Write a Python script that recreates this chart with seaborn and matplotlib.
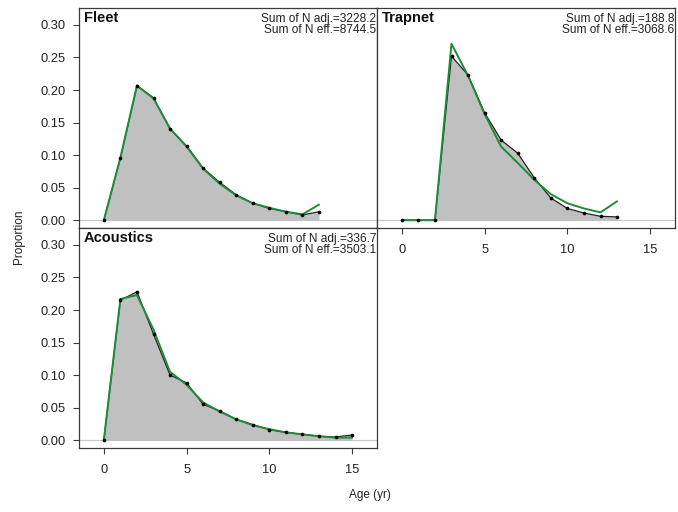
import numpy as np
import pandas as pd
import matplotlib
matplotlib.use("Agg")
import matplotlib.pyplot as plt
import seaborn as sns

# Observed and expected age composition proportions per fleet
fleet_ages = list(range(0, 14))
fleet_obs = [0.0, 0.095, 0.206, 0.188, 0.140, 0.114, 0.080, 0.058, 0.039, 0.026, 0.018, 0.013, 0.008, 0.013]
fleet_exp = [0.0, 0.096, 0.207, 0.187, 0.141, 0.113, 0.079, 0.056, 0.038, 0.026, 0.019, 0.013, 0.009, 0.024]

trap_ages = list(range(0, 14))
trap_obs = [0.0, 0.0, 0.0, 0.252, 0.223, 0.165, 0.123, 0.103, 0.065, 0.034, 0.018, 0.011, 0.006, 0.005]
trap_exp = [0.0, 0.0, 0.0, 0.271, 0.222, 0.163, 0.113, 0.088, 0.062, 0.040, 0.026, 0.018, 0.012, 0.029]

acou_ages = list(range(0, 16))
acou_obs = [0.0, 0.215, 0.228, 0.163, 0.100, 0.088, 0.055, 0.045, 0.032, 0.024, 0.016, 0.012, 0.009, 0.006, 0.005, 0.008]
acou_exp = [0.0, 0.217, 0.223, 0.170, 0.105, 0.085, 0.058, 0.044, 0.032, 0.023, 0.017, 0.012, 0.009, 0.006, 0.004, 0.004]

panel_names = ["Fleet", "Trapnet", "Acoustics"]
n_adj = ["3228.2", "188.8", "336.7"]
n_eff = ["8744.5", "3068.6", "3503.1"]

y_ticks = [0.0, 0.05, 0.10, 0.15, 0.20, 0.25, 0.30]
x_ticks = [0, 5, 10, 15]

sns.set_style("ticks")
plt.rcParams["font.family"] = ["Liberation Sans", "DejaVu Sans"]

frames = []
for name, ages, obs, exp in [("Fleet", fleet_ages, fleet_obs, fleet_exp),
                             ("Trapnet", trap_ages, trap_obs, trap_exp),
                             ("Acoustics", acou_ages, acou_obs, acou_exp)]:
    frames.append(pd.DataFrame({"panel": name, "age": ages, "obs": obs, "exp": exp}))
df = pd.concat(frames, ignore_index=True)

W, H = 678, 512
fig = plt.figure(figsize=(W / 100, H / 100), dpi=100)

def box(x0, y0, x1, y1):
    return [x0 / W, 1 - y1 / H, (x1 - x0) / W, (y1 - y0) / H]

positions = {
    "Fleet": box(79, 8, 377, 228),
    "Trapnet": box(377, 8, 675, 228),
    "Acoustics": box(79, 228, 377, 448),
}

green = "#1f8a3a"
frame_col = "#3a3a3a"

for i, name in enumerate(panel_names):
    ax = fig.add_axes(positions[name])
    d = df[df["panel"] == name]
    ax.axhline(0, color="#c8c8c8", lw=0.9, zorder=1)
    ax.fill_between(d["age"], 0, d["obs"], color="#c0c0c0", lw=0, zorder=2)
    sns.lineplot(data=d, x="age", y="obs", ax=ax, color="#222222", lw=0.9, zorder=3)
    sns.lineplot(data=d, x="age", y="exp", ax=ax, color=green, lw=1.4, zorder=4)
    sns.scatterplot(data=d, x="age", y="obs", ax=ax, color="black", s=7, linewidth=0, zorder=5)

    ax.set_xlim(-1.5, 16.5)
    ax.set_ylim(-0.012, 0.326)
    ax.set_xlabel("")
    ax.set_ylabel("")
    for sp in ax.spines.values():
        sp.set_visible(True)
        sp.set_color(frame_col)
        sp.set_linewidth(0.9)

    ax.set_yticks(y_ticks)
    ax.set_xticks(x_ticks)
    ax.tick_params(axis="both", direction="out", length=4.5, width=0.8,
                   color=frame_col, labelsize=9.3, labelcolor="#222222")
    ax.tick_params(axis="y", pad=5)
    ax.tick_params(axis="x", pad=7)

    if name == "Trapnet":
        ax.tick_params(axis="y", left=False, labelleft=False)
    else:
        ax.set_yticklabels([f"{v:.2f}" for v in y_ticks])
    if name == "Fleet":
        ax.tick_params(axis="x", bottom=False, labelbottom=False)

    ax.text(0.016, 0.985, name, transform=ax.transAxes, ha="left", va="top",
            fontsize=10.5, fontweight="bold", color="#111111")
    ax.text(0.997, 0.978, f"Sum of N adj.={n_adj[i]}\nSum of N eff.={n_eff[i]}",
            transform=ax.transAxes, ha="right", va="top", fontsize=8.6,
            linespacing=0.95, color="#222222")

fig.text(19 / W, 1 - 237 / H, "Proportion", rotation=90, ha="center", va="center",
         fontsize=8.5, color="#222222")
fig.text(370 / W, 1 - 495 / H, "Age (yr)", ha="center", va="center",
         fontsize=8.5, color="#222222")

fig.savefig("out.png", dpi=100)
